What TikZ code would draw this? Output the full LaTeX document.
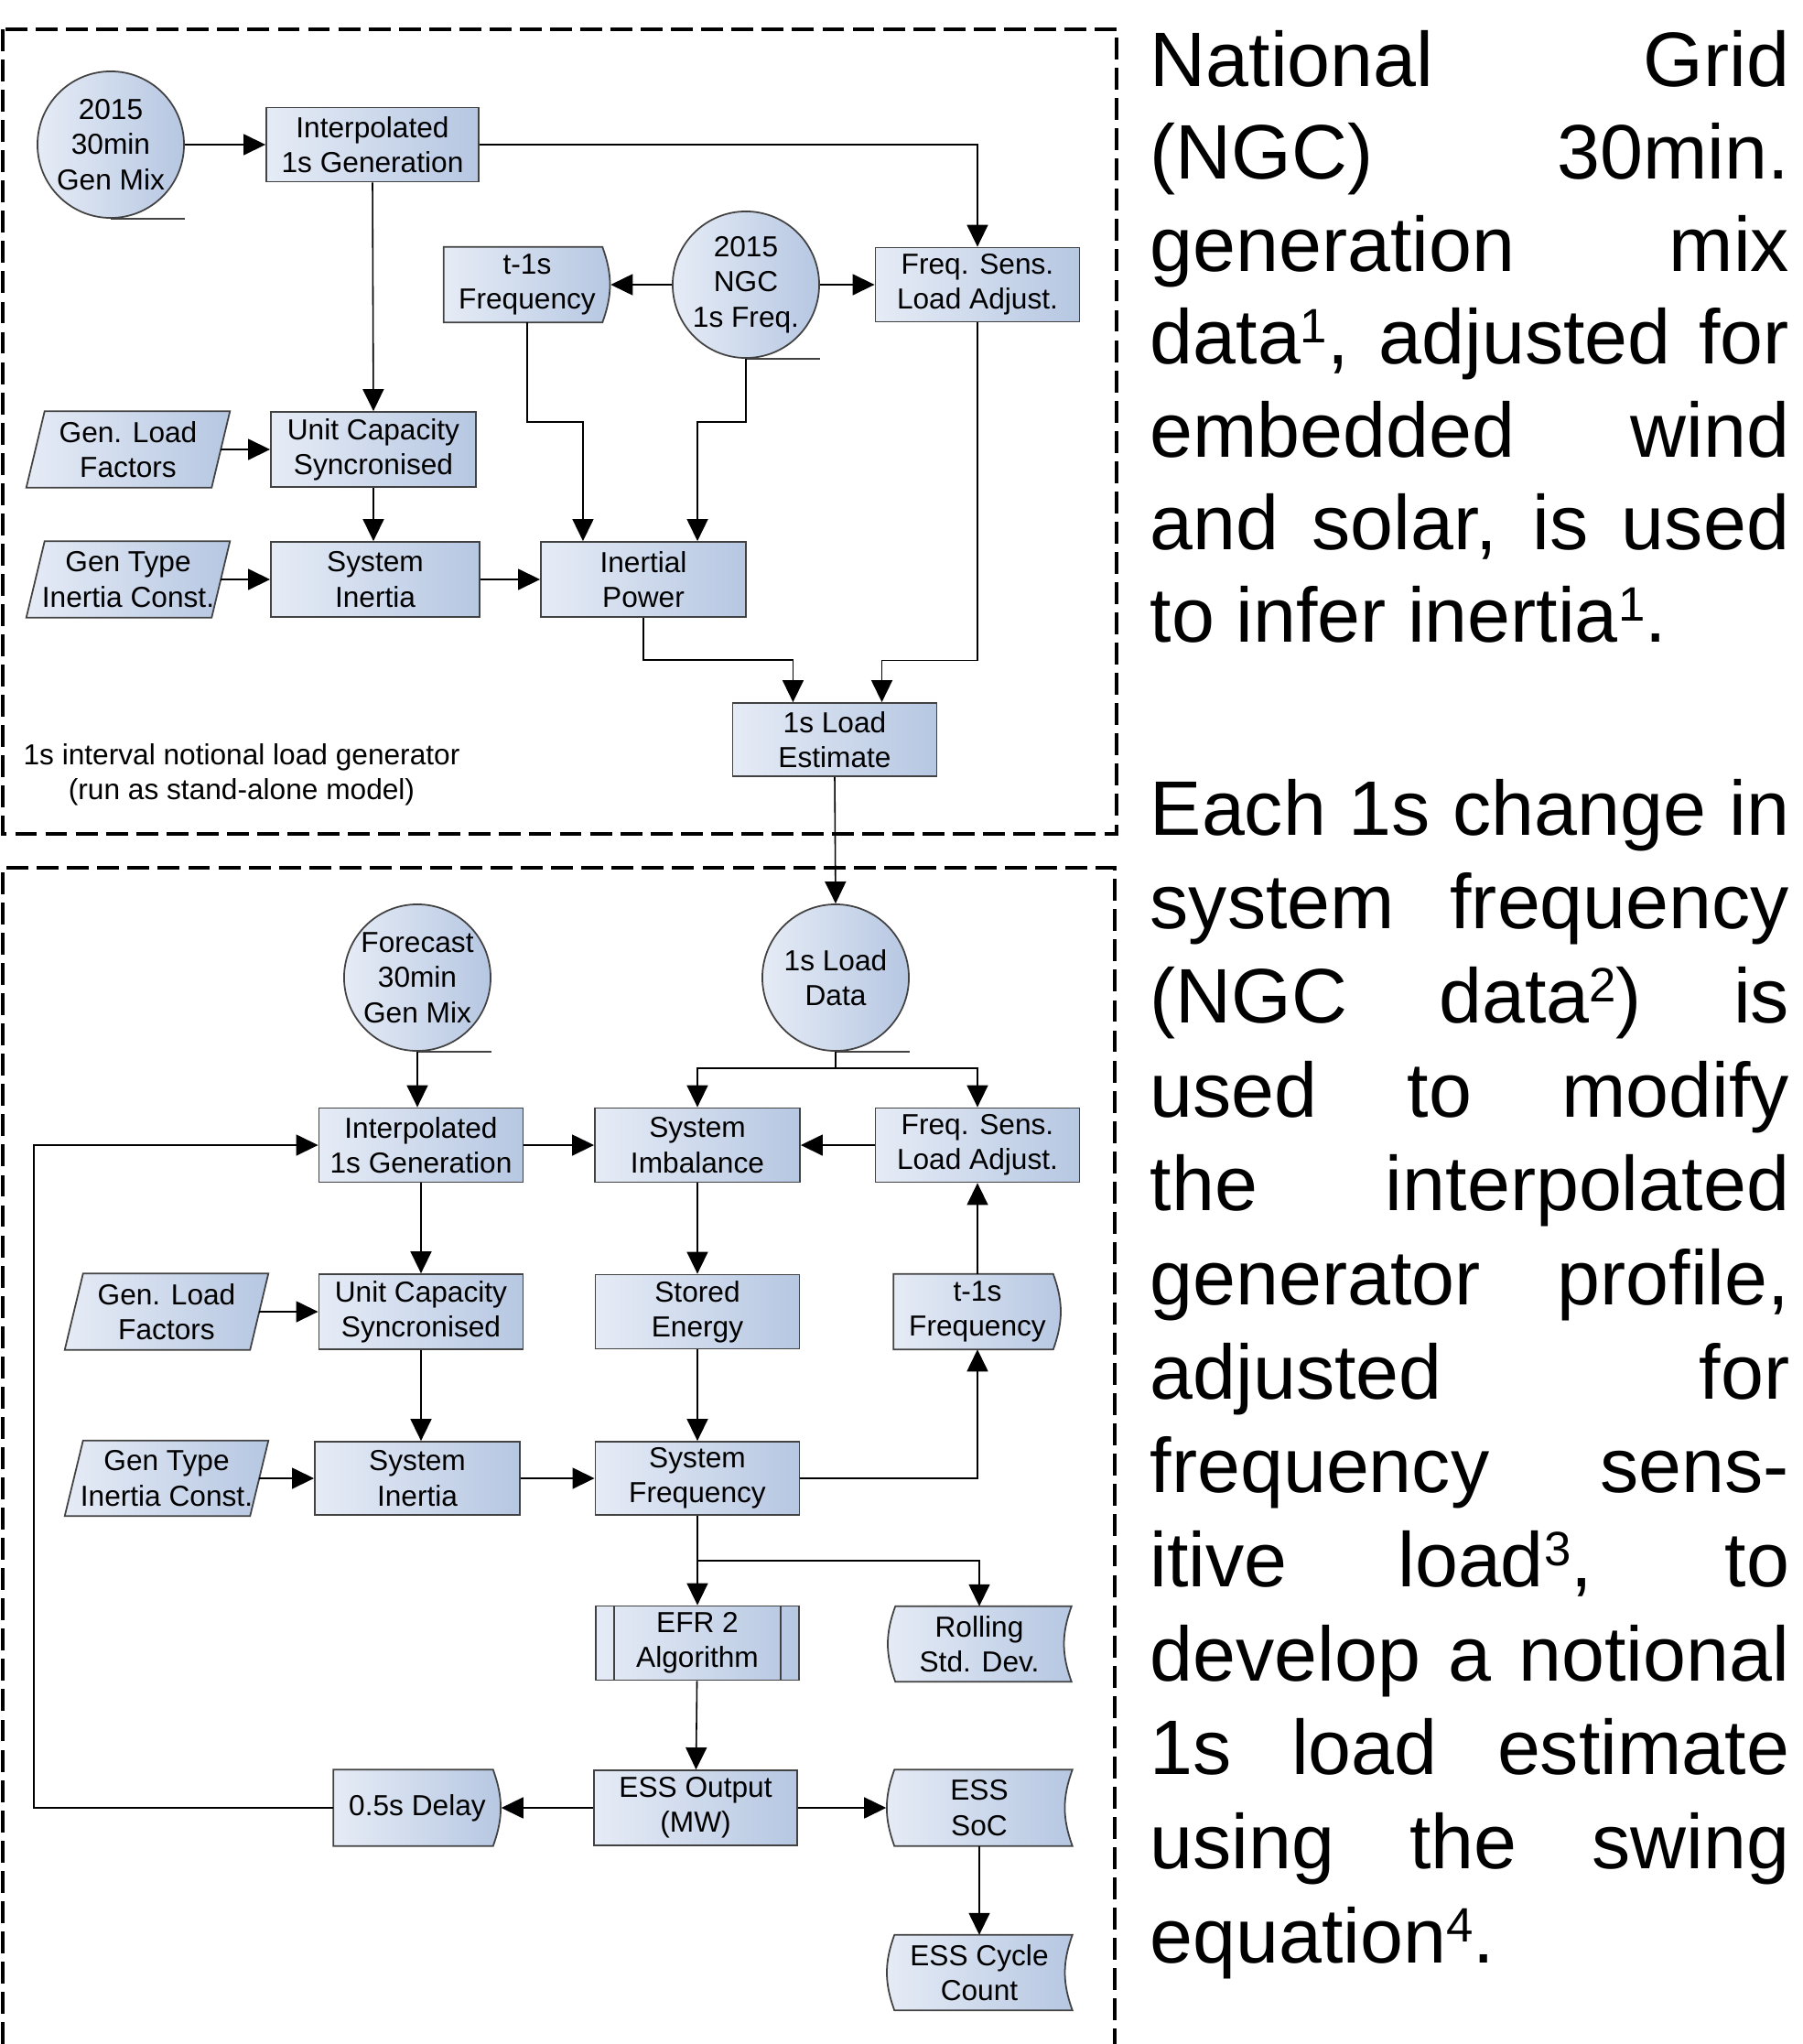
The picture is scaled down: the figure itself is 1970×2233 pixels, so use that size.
\documentclass[tikz,border=0pt]{standalone}
\usepackage{fontspec}
\setmainfont{Liberation Sans}
\usetikzlibrary{arrows.meta}
\pgfdeclarelayer{background}
\pgfsetlayers{background,main}
\definecolor{boxlight}{RGB}{230,236,246}
\definecolor{boxdark}{RGB}{182,199,226}
\definecolor{boxline}{RGB}{66,66,66}
\newcommand{\refmark}[1]{\raisebox{6.5pt}{\fontsize{15}{15}\selectfont #1}}

\begin{document}
\begin{tikzpicture}[x=0.01cm, y=-0.01cm,
  lbl/.style={align=center, font=\fontsize{9}{10.9}\selectfont, inner sep=0pt},
  proc/.style={lbl, draw=boxline, line width=0.5pt, left color=boxlight, right color=boxdark, minimum width=2.23cm, minimum height=0.81cm},
  store/.style={lbl, circle, draw=boxline, line width=0.5pt, left color=boxlight, right color=boxdark, minimum size=1.6cm},
  shaped/.style={lbl, minimum height=0.81cm},
  outline/.style={draw=boxline, line width=0.5pt, left color=boxlight, right color=boxdark},
  flow/.style={line width=0.45pt, -{Triangle[length=2.4mm,width=2.3mm]}},
  frame/.style={line width=1.1pt, dash pattern=on 6.8pt off 2.6pt},
  notetext/.style={anchor=base west, inner sep=0pt}]
\useasboundingbox (0,0) rectangle (1970,2233);

% stand-alone load generator
\node[store] (genmixA) at (121,158) {2015\\30min\\Gen Mix};
\node[proc, minimum width=2.32cm] (interpA) at (407,158) {Interpolated\\1s Generation};
\node[shaped, minimum width=1.81cm] (tfreqA) at (576,311) {t-1s\\Frequency};
\node[store] (ngcfreq) at (815,311) {2015\\NGC\\1s Freq.};
\node[proc] (fsensA) at (1068,311) {Freq. Sens.\\Load Adjust.};
\node[shaped, minimum width=2.21cm, minimum height=0.82cm] (glfA) at (140,491) {Gen. Load\\Factors};
\node[proc, minimum width=2.24cm, minimum height=0.82cm] (ucapA) at (408,491) {Unit Capacity\\Syncronised};
\node[shaped, minimum width=2.21cm, minimum height=0.82cm] (gtypeA) at (140,633) {Gen Type\\Inertia Const.};
\node[proc, minimum width=2.28cm, minimum height=0.82cm] (sinerA) at (410,633) {System\\Inertia};
\node[proc, minimum width=2.24cm, minimum height=0.82cm] (ipower) at (703,633) {Inertial\\Power};
\node[proc, minimum height=0.80cm] (loadest) at (912,808) {1s Load\\Estimate};
\node[lbl] (caption) at (264,846) {1s interval notional load generator\\(run as stand-alone model)};

% storage model
\node[store] (fcmix) at (456,1068) {Forecast\\30min\\Gen Mix};
\node[store] (loaddata) at (913,1068) {1s Load\\Data};
\node[proc] (interpB) at (460,1251) {Interpolated\\1s Generation};
\node[proc, minimum width=2.24cm] (simbal) at (762,1251) {System\\Imbalance};
\node[proc] (fsensB) at (1068,1251) {Freq. Sens.\\Load Adjust.};
\node[shaped, minimum width=2.21cm, minimum height=0.82cm] (glfB) at (182,1433) {Gen. Load\\Factors};
\node[proc, minimum height=0.82cm] (ucapB) at (460,1433) {Unit Capacity\\Syncronised};
\node[proc] (stored) at (762,1433) {Stored\\Energy};
\node[shaped, minimum width=1.82cm] (tfreqB) at (1068,1433) {t-1s\\Frequency};
\node[shaped, minimum width=2.21cm] (gtypeB) at (182,1615) {Gen Type\\Inertia Const.};
\node[proc, minimum width=2.24cm, minimum height=0.80cm] (sinerB) at (456,1615) {System\\Inertia};
\node[proc, minimum height=0.80cm] (sfreq) at (762,1615) {System\\Frequency};
\node[proc, minimum width=2.22cm] (efr) at (762,1795) {EFR 2\\Algorithm};
\node[shaped, minimum width=2.0cm] (rolling) at (1070,1796) {Rolling\\Std. Dev.};
\node[proc, minimum width=2.22cm, minimum height=0.82cm] (essout) at (760,1975) {ESS Output\\(MW)};
\node[shaped, minimum width=1.82cm, minimum height=0.82cm] (delay) at (456,1975) {0.5s Delay};
\node[shaped, minimum width=2.02cm, minimum height=0.82cm] (esssoc) at (1070,1975) {ESS\\SoC};
\node[shaped, minimum width=2.02cm] (cycles) at (1070,2155) {ESS Cycle\\Count};

% outlines of the non-rectangular shapes
\begin{pgfonlayer}{background}
\foreach \n in {glfA,gtypeA,glfB,gtypeB}
  \path[outline] (\n.south west) -- ([xshift=0.2cm]\n.north west) -- (\n.north east) -- ([xshift=-0.2cm]\n.south east) -- cycle;
\foreach \n in {tfreqA,tfreqB,delay}
  \path[outline] (\n.north west) -- ([xshift=-0.09cm]\n.north east) to[out=-70,in=70] ([xshift=-0.09cm]\n.south east) -- (\n.south west) -- cycle;
\foreach \n in {rolling,esssoc,cycles}
  \path[outline] ([xshift=0.09cm]\n.north west) -- (\n.north east) to[out=-110,in=110] (\n.south east) -- ([xshift=0.09cm]\n.south west) to[out=110,in=-110] ([xshift=0.09cm]\n.north west) -- cycle;
\end{pgfonlayer}
\foreach \n in {genmixA,ngcfreq,fcmix,loaddata}
  \draw[boxline, line width=0.5pt] (\n.south) -- (\n.south -| \n.east);
\draw[boxline, line width=0.5pt] ([xshift=0.21cm]efr.north west) -- ([xshift=0.21cm]efr.south west)
  ([xshift=-0.21cm]efr.north east) -- ([xshift=-0.21cm]efr.south east);

% connectors, top part
\draw[flow] (genmixA) -- (interpA);
\draw[flow] (interpA.east) -| (fsensA.north);
\draw[flow] (interpA.south) -- (ucapA.north);
\draw[flow] (ngcfreq.west) -- (tfreqA.east);
\draw[flow] (ngcfreq.east) -- (fsensA.west);
\draw[flow] (tfreqA.south) -- ++(0,109) -| ([xshift=-0.66cm]ipower.north);
\draw[flow] (ngcfreq.south) -- ++(0,69) -| ([xshift=0.59cm]ipower.north);
\draw[flow] ([xshift=-0.1cm]glfA.east) -- (ucapA.west);
\draw[flow] (ucapA.south) -- (ucapA.south |- sinerA.north);
\draw[flow] ([xshift=-0.1cm]gtypeA.east) -- (sinerA.west);
\draw[flow] (sinerA) -- (ipower);
\draw[flow] (ipower.south) -- ++(0,46) -| ([xshift=-0.455cm]loadest.north);
\draw[flow] (fsensA.south) -- ++(0,369) -| ([xshift=0.515cm]loadest.north);
\draw[flow] (loadest.south) -- (loaddata.north);

% connectors, bottom part
\draw[flow] (fcmix.south) -- (fcmix.south |- interpB.north);
\draw[flow] (loaddata.south) -- ++(0,18) -| (simbal.north);
\draw[flow] (loaddata.south) -- ++(0,18) -| (fsensB.north);
\draw[flow] (interpB) -- (simbal);
\draw[flow] (fsensB) -- (simbal);
\draw[flow] (interpB.south) -- (ucapB.north);
\draw[flow] ([xshift=-0.1cm]glfB.east) -- (ucapB.west);
\draw[flow] (simbal) -- (stored);
\draw[flow] (stored) -- (sfreq);
\draw[flow] (ucapB.south) -- (ucapB.south |- sinerB.north);
\draw[flow] ([xshift=-0.1cm]gtypeB.east) -- (sinerB.west);
\draw[flow] (sinerB) -- (sfreq);
\draw[flow] (sfreq.east) -| (tfreqB.south);
\draw[flow] (tfreqB) -- (fsensB);
\draw[flow] (sfreq) -- (efr);
\draw[flow] (sfreq.south) -- ++(0,49) -| (rolling.north);
\draw[flow] (efr) -- (essout);
\draw[flow] (essout) -- (delay);
\draw[flow] (essout) -- (esssoc);
\draw[flow] (esssoc) -- (cycles);
\draw[flow] (delay.west) -- ++(-327,0) |- (interpB.west);

% dashed frames
\draw[frame] (3,32) rectangle (1220,911);
\draw[frame] (3,2233) -- (3,948) -- (1218,948) -- (1218,2233);

% description beside the diagram
\node[notetext] (notesA) at (1256,94) {\parbox[t]{6.98cm}{%
  \fontsize{24}{28.8}\selectfont\pretolerance=10000 \tolerance=10000 \hbadness=10000 \hyphenpenalty=10000
  National Grid\linebreak (NGC) 30min.\linebreak generation mix\linebreak
  data\refmark{1}, adjusted for\linebreak embedded wind\linebreak
  and solar, is used\linebreak to infer inertia\refmark{1}.}};
\node[notetext] (notesB) at (1256,912) {\parbox[t]{6.98cm}{%
  \fontsize{24}{29.2}\selectfont\pretolerance=10000 \tolerance=10000 \hbadness=10000 \hyphenpenalty=10000
  Each 1s change in\linebreak system frequency\linebreak (NGC data\refmark{2}) is\linebreak
  used to modify\linebreak the interpolated\linebreak generator profile,\linebreak
  adjusted for\linebreak frequency sens-\linebreak itive load\refmark{3}, to\linebreak
  develop a notional\linebreak 1s load estimate\linebreak using the swing\linebreak
  equation\refmark{4}.}};
\end{tikzpicture}
\end{document}
